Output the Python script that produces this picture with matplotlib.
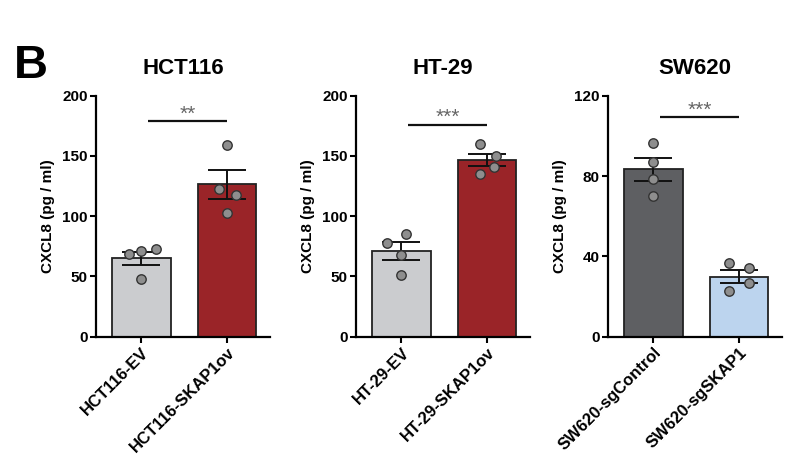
import numpy as np
from matplotlib import pyplot as plt

plt.rcParams['font.family'] = ['Liberation Sans', 'DejaVu Sans']
plt.rcParams['font.weight'] = 'bold'

# panel data
titles = ["HCT116", "HT-29", "SW620"]
group_labels = [["HCT116-EV", "HCT116-SKAP1ov"],
                ["HT-29-EV", "HT-29-SKAP1ov"],
                ["SW620-sgControl", "SW620-sgSKAP1"]]
means = [[65, 126.5], [71, 146.6], [83.4, 29.9]]
sems = [[5.5, 12], [7.3, 5.3], [5.7, 3.2]]
points = [[[69, 71, 73, 48], [159, 123, 118, 103]],
          [[78, 85, 68, 51], [160, 150, 141, 135]],
          [[96.6, 86.8, 78.5, 70.2], [36.5, 34.4, 26.6, 22.8]]]
point_offsets = [[[-0.15, 0.0, 0.17, 0.0], [0.0, -0.1, 0.1, 0.0]],
                 [[-0.17, 0.05, 0.0, 0.0], [-0.08, 0.1, 0.08, -0.08]],
                 [[0.0, 0.0, 0.0, 0.0], [-0.12, 0.12, 0.12, -0.12]]]
stars = ["**", "***", "***"]
sig_y = [179, 176, 109.3]
ymax = [200, 200, 120]
yticks = [[0, 50, 100, 150, 200], [0, 50, 100, 150, 200], [0, 40, 80, 120]]
bar_colors = [["#cbcccf", "#9a2428"], ["#cbcccf", "#9a2428"], ["#5e5f62", "#bcd4ee"]]

fig = plt.figure(figsize=(8, 4.67), dpi=100)
lefts = [0.12, 0.445, 0.76]

for i in range(3):
    ax = fig.add_axes([lefts[i], 0.279, 0.2175, 0.516])
    x = np.arange(2)
    ax.bar(x, means[i], width=0.68, color=bar_colors[i], edgecolor='#222222',
           linewidth=1.3, zorder=1)
    ax.errorbar(x, means[i], yerr=sems[i], fmt='none', ecolor='#111111',
                elinewidth=1.4, capsize=14, capthick=1.4, zorder=3)
    for j in range(2):
        ax.scatter(x[j] + np.array(point_offsets[i][j]), points[i][j], s=46,
                   color='#8e8e8e', edgecolor='#333333', linewidth=1.0, zorder=4)
    ax.plot([0.08, 1.0], [sig_y[i], sig_y[i]], color='#111111', lw=1.6,
            solid_capstyle='butt')
    ax.text(0.54, sig_y[i] - ymax[i] * 0.01, stars[i], ha='center', va='bottom',
            fontsize=15, color='#666666', fontweight='normal')
    ax.set_xlim(-0.53, 1.5)
    ax.set_ylim(0, ymax[i])
    ax.set_yticks(yticks[i])
    ax.set_xticks(x)
    ax.set_xticklabels(group_labels[i], rotation=45, ha='right',
                       rotation_mode='anchor', fontsize=12, fontweight='bold')
    ax.tick_params(axis='both', direction='out', length=4, width=1.5,
                   labelsize=11, pad=2)
    ax.tick_params(axis='x', labelsize=12)
    ax.spines['top'].set_visible(False)
    ax.spines['right'].set_visible(False)
    ax.spines['left'].set_linewidth(1.6)
    ax.spines['bottom'].set_linewidth(1.6)
    ax.set_ylabel("CXCL8 (pg / ml)", fontsize=11, fontweight='bold', labelpad=5)
    ax.set_title(titles[i], fontsize=16, fontweight='bold', pad=16)

fig.text(0.017, 0.833, "B", fontsize=34, fontweight='bold')

fig.savefig("out.png", dpi=100)
